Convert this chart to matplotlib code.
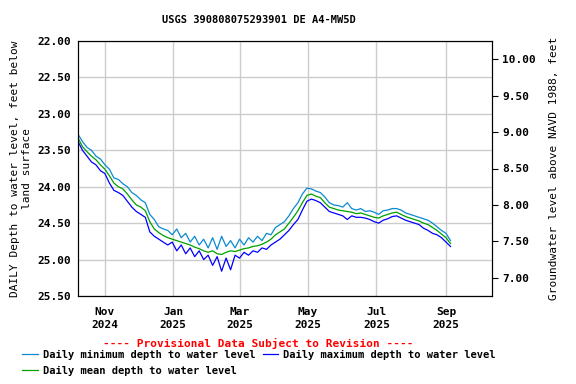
import matplotlib
matplotlib.use('Agg')
import matplotlib.pyplot as plt
import pandas as pd

# 4-day samples, Oct 8 2024 - Sep 5 2025 (depth below land surface, feet)
dates = pd.date_range('2024-10-08', periods=84, freq='4D')

depth_mean = [23.33, 23.45, 23.52, 23.58, 23.63, 23.70, 23.76, 23.85, 23.95, 24.00,
              24.03, 24.10, 24.18, 24.25, 24.28, 24.33, 24.48, 24.58, 24.63, 24.67,
              24.70, 24.72, 24.74, 24.76, 24.78, 24.80, 24.83, 24.85, 24.88, 24.90,
              24.88, 24.92, 24.93, 24.90, 24.88, 24.89, 24.87, 24.85, 24.84, 24.82,
              24.81, 24.79, 24.76, 24.72, 24.66, 24.62, 24.58, 24.50, 24.42, 24.33,
              24.22, 24.12, 24.10, 24.13, 24.15, 24.22, 24.28, 24.30, 24.32, 24.33,
              24.34, 24.35, 24.37, 24.36, 24.38, 24.40, 24.42, 24.43, 24.40, 24.38,
              24.36, 24.35, 24.38, 24.41, 24.43, 24.45, 24.47, 24.50, 24.52, 24.56,
              24.60, 24.65, 24.70, 24.78]

depth_min = [23.28, 23.38, 23.46, 23.50, 23.58, 23.62, 23.70, 23.76, 23.88, 23.90,
             23.96, 24.00, 24.08, 24.12, 24.18, 24.22, 24.38, 24.45, 24.55, 24.58,
             24.60, 24.66, 24.58, 24.70, 24.64, 24.76, 24.68, 24.80, 24.72, 24.84,
             24.70, 24.86, 24.68, 24.82, 24.74, 24.84, 24.72, 24.80, 24.70, 24.76,
             24.68, 24.74, 24.64, 24.66, 24.56, 24.52, 24.48, 24.40, 24.30, 24.22,
             24.10, 24.02, 24.03, 24.06, 24.08, 24.14, 24.22, 24.25, 24.26, 24.28,
             24.22, 24.30, 24.32, 24.30, 24.34, 24.33, 24.35, 24.38, 24.33, 24.32,
             24.30, 24.30, 24.32, 24.36, 24.38, 24.40, 24.42, 24.44, 24.46, 24.50,
             24.55, 24.60, 24.64, 24.74]

depth_max = [23.38, 23.50, 23.58, 23.66, 23.70, 23.78, 23.82, 23.95, 24.05, 24.08,
             24.12, 24.20, 24.28, 24.34, 24.38, 24.42, 24.62, 24.68, 24.72, 24.76,
             24.80, 24.76, 24.88, 24.80, 24.92, 24.84, 24.96, 24.88, 25.00, 24.94,
             25.08, 24.96, 25.16, 24.98, 25.14, 24.94, 24.98, 24.90, 24.94, 24.88,
             24.90, 24.84, 24.86, 24.80, 24.76, 24.72, 24.66, 24.60, 24.52, 24.45,
             24.32, 24.20, 24.17, 24.19, 24.22, 24.28, 24.34, 24.36, 24.38, 24.40,
             24.45, 24.40, 24.42, 24.42, 24.43, 24.45, 24.48, 24.50, 24.46, 24.44,
             24.41, 24.40, 24.43, 24.46, 24.48, 24.50, 24.52, 24.57, 24.60, 24.64,
             24.66, 24.70, 24.76, 24.82]

datum = 32.25  # land surface elevation, NAVD 1988
left_ticks = [22.0, 22.5, 23.0, 23.5, 24.0, 24.5, 25.0, 25.5]
right_ticks = [7.0, 7.5, 8.0, 8.5, 9.0, 9.5, 10.0]
month_ticks = pd.to_datetime(['2024-11-01', '2025-01-01', '2025-03-01',
                              '2025-05-01', '2025-07-01', '2025-09-01'])

plt.rcParams['font.family'] = 'DejaVu Sans Mono'
plt.rcParams['font.weight'] = 'bold'
plt.rcParams['font.size'] = 7.5

fig = plt.figure(figsize=(5.76, 3.84), dpi=100)
ax = fig.add_axes([78/576, 88/384, 414/576, 255/384])

ax.plot(dates, depth_min, color='#0a8ad2', lw=0.9, label='Daily minimum depth to water level')
ax.plot(dates, depth_mean, color='#00a000', lw=0.9, label='Daily mean depth to water level')
ax.plot(dates, depth_max, color='#0000ff', lw=0.9, label='Daily maximum depth to water level')

ax.set_ylim(25.5, 22.0)
ax.set_yticks(left_ticks)
ax.set_yticklabels(['%.2f' % v for v in left_ticks], fontsize=8)
ax.set_xlim(pd.Timestamp('2024-10-08'), pd.Timestamp('2025-10-12'))
ax.set_xticks(month_ticks)
ax.set_xticklabels([d.strftime('%b\n%Y') for d in month_ticks], fontsize=8, linespacing=1.4)
ax.grid(True, color='#cccccc', lw=1)
ax.set_axisbelow(True)
ax.tick_params(axis='y', length=0, pad=5)
ax.tick_params(axis='x', length=0, pad=8)
ax.set_ylabel('DAILY Depth to water level, feet below\nland surface', fontsize=8)

ax2 = ax.twinx()
ax2.set_ylim(datum - 25.5, datum - 22.0)
ax2.set_yticks(right_ticks)
ax2.set_yticklabels(['%.2f' % v for v in right_ticks], fontsize=8)
ax2.tick_params(length=4, direction='out')
ax2.set_ylabel('Groundwater level above NAVD 1988, feet', fontsize=8, labelpad=9)

fig.text(259/576, 1 - 20/384, 'USGS 390808075293901 DE A4-MW5D',
         ha='center', va='center')
fig.text(258/576, 1 - 343/384, '---- Provisional Data Subject to Revision ----',
         ha='center', va='center', color='red', fontsize=8)

h, l = ax.get_legend_handles_labels()
fig.legend(h, l, ncol=2, loc='upper left', bbox_to_anchor=(22/576, 1 - 350/384),
           frameon=False, handlelength=1.5, handletextpad=0.5, columnspacing=0.7,
           labelspacing=0.55, borderaxespad=0, borderpad=0)

fig.savefig('out.png', dpi=100)
